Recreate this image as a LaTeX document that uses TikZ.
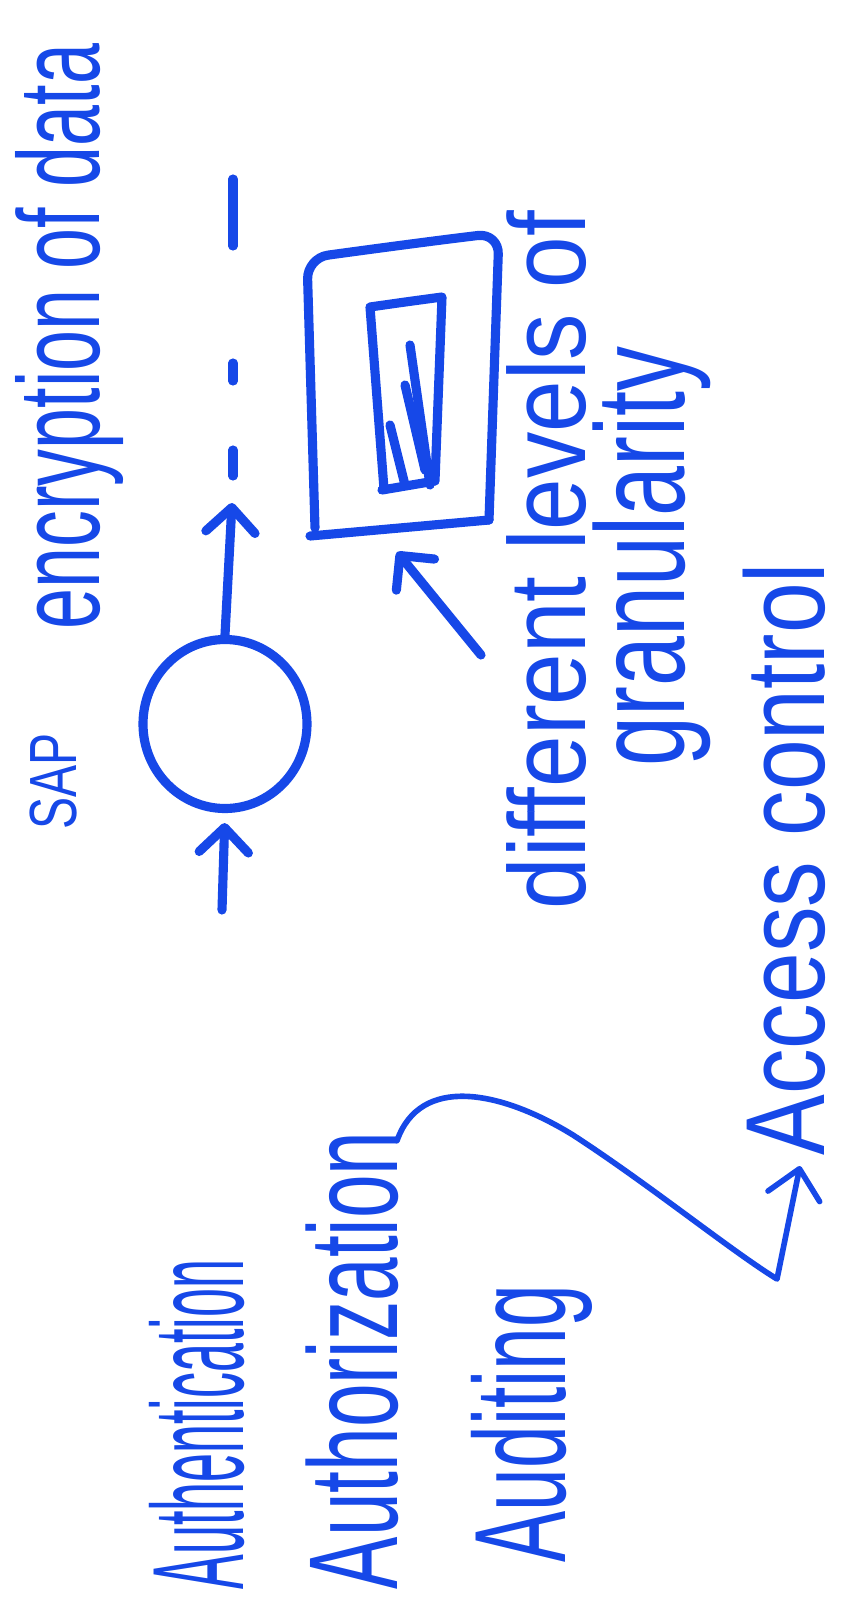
\documentclass[tikz,border=0pt]{standalone}
\usepackage{fontspec}
\newfontfamily\marker{Liberation Sans}
\usetikzlibrary{arrows.meta, shapes.geometric, positioning}
\definecolor{ink}{RGB}{22,72,232}

\begin{document}
\begin{tikzpicture}[
    x=0.1mm, y=-0.1mm,
    pen/.style={draw=ink, line width=2.6pt, line cap=round, line join=round},
    arr/.style={pen, -{Straight Barb[round, length=7pt, width=14pt]}},
    swoop/.style={pen, line width=1.6pt, -{Straight Barb[round, length=8pt, width=15pt]}},
    note/.style 2 args={text=ink, rotate=90, anchor=base west, inner sep=0pt,
                 font=\fontsize{#1}{#1}\marker\addfontfeature{FakeStretch=#2}},
    blobstyle/.style={ellipse, pen, minimum width=16.4mm, minimum height=16.9mm, inner sep=0pt}
]
\fill[white] (0,0) rectangle (848,1603);
\useasboundingbox (0,0) rectangle (848,1603);

% top row
\node[note={19}{0.72}] (sap) at (76,830) {SAP};
\node[note={33}{0.635}] (enc) at (99,630) {encryption of data};

% the data flow
\node[blobstyle] (blob) at (225,724) {};
\coordinate (uptip) at (232,503);
\coordinate (intail) at (222,910);
\draw[arr, shorten >=1mm] (intail) -- (blob.south);
\draw[arr] (blob.north) -- (uptip);
\foreach \a/\b in {179/246, 363/381, 450/476}
  \draw[pen] (233,\a) -- (233,\b);

% nested boxes
\draw[pen, rounded corners=6] (315,528) -- (307,258)
    .. controls (380,248) and (440,240) .. (499,233) -- (489,520);
\draw[pen] (310,536) -- (489,520);
\draw[pen] (384,489) -- (370,307) .. controls (405,302) .. (442,297)
    -- (435,481) -- (382,490);
\draw[pen] (410,345) -- (430,485);
\draw[pen] (405,385) -- (425,470);
\draw[pen] (390,425) -- (405,485);

\node[note={31}{0.85}] (diff) at (585,910) {different levels of};
\node[note={36}{0.71}] (gran) at (684,767) {granularity};
\coordinate (gtail) at (481,655);
\coordinate (gtip) at (397,552);
\draw[arr] (gtail) -- (gtip);

% left column
\node[note={32}{0.81}] (acc) at (824,1156) {Access control};
\node[note={37}{0.40}] (authn) at (243,1590) {Authentication};
\node[note={36}{0.62}] (authz) at (397,1590) {Authorization};
\node[note={37}{0.59}] (audit) at (565,1563) {Auditing};

\coordinate (dip) at (777,1279);
\draw[swoop] ([yshift=-1mm]authz.base east)
    .. controls (420,1075) and (500,1090) .. (573,1135)
    .. controls (650,1185) and (730,1250) .. (dip)
    -- ([xshift=-2.4mm,yshift=-1mm]acc.base west);
\end{tikzpicture}
\end{document}
